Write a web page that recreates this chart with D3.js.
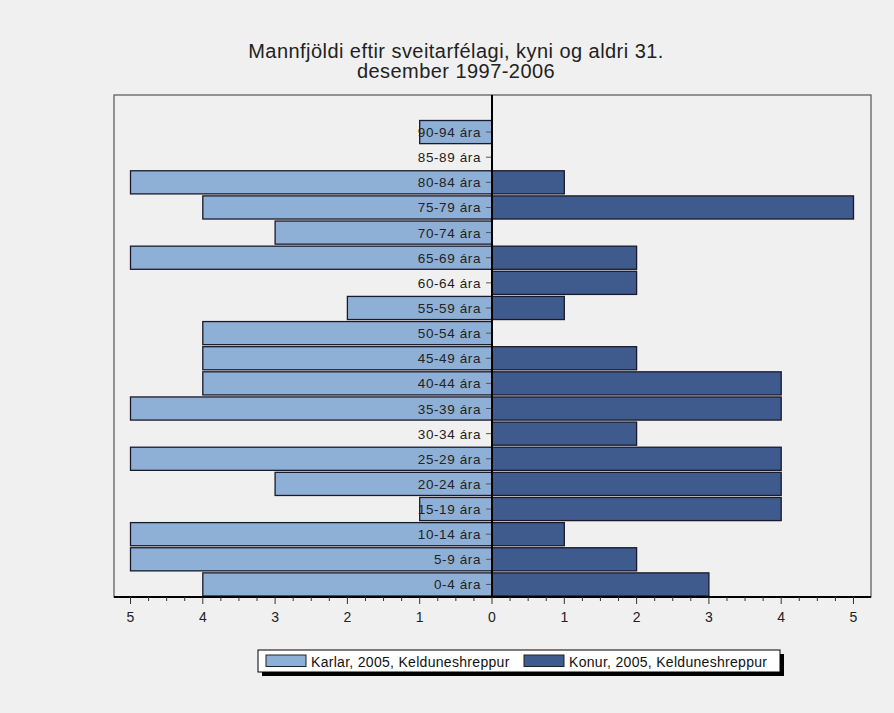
<!DOCTYPE html>
<html><head><meta charset="utf-8">
<script src="https://cdn.jsdelivr.net/npm/d3@7"></script>
<style>body{margin:0;background:#f0f0f0;}svg{display:block;font-family:"Liberation Sans",Arial,sans-serif;}</style>
</head><body><svg id="c" width="894" height="713"></svg>
<script>
const categories = ["0-4 ára","5-9 ára","10-14 ára","15-19 ára","20-24 ára","25-29 ára","30-34 ára","35-39 ára","40-44 ára","45-49 ára","50-54 ára","55-59 ára","60-64 ára","65-69 ára","70-74 ára","75-79 ára","80-84 ára","85-89 ára","90-94 ára"];
const karlar = [4,5,5,1,3,5,0,5,4,4,4,2,0,5,3,4,5,0,1];
const konur  = [3,2,1,4,4,4,2,4,4,2,0,1,2,2,0,5,1,0,0];
const xTicks = [-5,-4,-3,-2,-1,0,1,2,3,4,5];
const seriesNames = ["Karlar, 2005, Kelduneshreppur","Konur, 2005, Kelduneshreppur"];
const colors = ["#8fb0d6","#3f5a8c"];
const titleLines = ["Mannfjöldi eftir sveitarfélagi, kyni og aldri 31.","desember 1997-2006"];

const svg = d3.select("#c");
svg.append("rect").attr("width",894).attr("height",713).attr("fill","#f0f0f0");
const L=114,R=871,T=95,B=597;
const x = d3.scaleLinear().domain([-5,5]).range([130.5,853.5]);
const y = d3.scaleBand().domain(categories).range([B,119.5]).paddingInner(0.08).paddingOuter(0.04);

svg.append("rect").attr("x",L).attr("y",T).attr("width",R-L).attr("height",B-T)
  .attr("fill","#f0f0f0").attr("stroke","#555").attr("stroke-width",1.2);

const tl = svg.append("text").attr("text-anchor","middle").attr("font-size",20).attr("letter-spacing",0.45).attr("fill","#222");
titleLines.forEach((t,i)=>tl.append("tspan").attr("x",456).attr("y",58+i*20).text(t));

const g = svg.append("g");
g.selectAll(".k").data(categories).join("rect")
  .attr("x",(d,i)=>x(-karlar[i])).attr("y",d=>y(d))
  .attr("width",(d,i)=>x(0)-x(-karlar[i])).attr("height",y.bandwidth())
  .attr("fill",colors[0]).attr("stroke","#1a1a2a").attr("stroke-width",(d,i)=>karlar[i]?1.3:0);
g.selectAll(".f").data(categories).join("rect")
  .attr("x",x(0)).attr("y",d=>y(d))
  .attr("width",(d,i)=>x(konur[i])-x(0)).attr("height",y.bandwidth())
  .attr("fill",colors[1]).attr("stroke","#1a1a2a").attr("stroke-width",(d,i)=>konur[i]?1.3:0);

// category labels + small ticks
const lab = svg.append("g");
categories.forEach(c=>{
  const cy = y(c)+y.bandwidth()/2;
  lab.append("text").attr("x",x(0)-11).attr("y",cy+5).attr("text-anchor","end")
    .attr("font-size",13.5).attr("letter-spacing",0.6).attr("fill","#222").text(c);
  lab.append("line").attr("x1",x(0)-6).attr("x2",x(0)).attr("y1",cy).attr("y2",cy).attr("stroke","#555");
});

// zero line
svg.append("line").attr("x1",x(0)).attr("x2",x(0)).attr("y1",T).attr("y2",B).attr("stroke","#000").attr("stroke-width",2);

// x axis
const ax = svg.append("g").attr("transform",`translate(0,${B})`);
ax.append("line").attr("x1",L).attr("x2",R).attr("stroke","#000").attr("stroke-width",2.2);
const minor = d3.range(-5,5.001,0.25);
ax.selectAll(".mn").data(minor).join("line").attr("x1",d=>x(d)).attr("x2",d=>x(d)).attr("y1",0)
  .attr("y2",d=>Number.isInteger(d)?7:4).attr("stroke","#333");
ax.selectAll(".lb").data(xTicks).join("text").attr("x",d=>x(d)).attr("y",25).attr("text-anchor","middle")
  .attr("font-size",14).attr("fill","#222").text(d=>Math.abs(d));

// legend
const lg = svg.append("g");
lg.append("rect").attr("x",262).attr("y",654).attr("width",522).attr("height",22).attr("fill","#000");
lg.append("rect").attr("x",258).attr("y",650).attr("width",522).attr("height",22).attr("fill","#fff").attr("stroke","#000");
const items = [266,524];
seriesNames.forEach((n,i)=>{
  lg.append("rect").attr("x",items[i]).attr("y",655).attr("width",40).attr("height",11.5).attr("fill",colors[i]).attr("stroke","#222");
  lg.append("text").attr("x",items[i]+45).attr("y",666.5).attr("font-size",14).attr("letter-spacing",0.3).attr("fill","#111").text(n);
});
</script></body></html>
